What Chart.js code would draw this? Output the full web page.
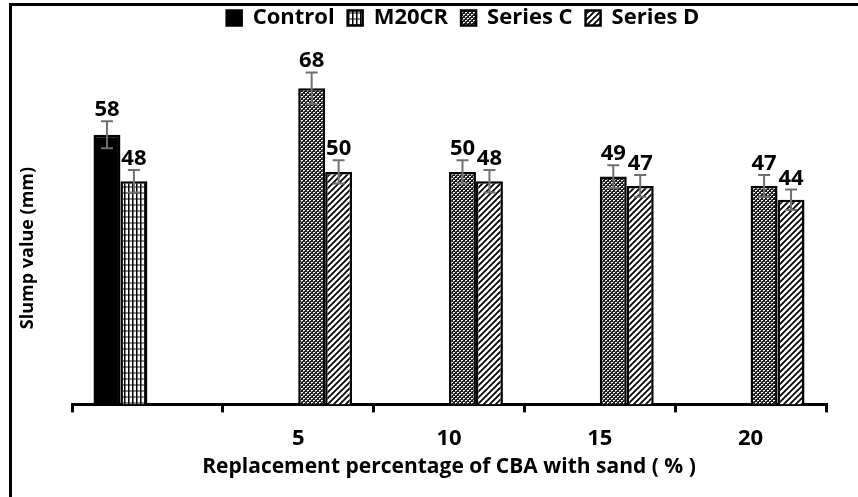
<!DOCTYPE html>
<html>
<head>
<meta charset="utf-8">
<script src="https://cdn.jsdelivr.net/npm/chart.js@4.4.0/dist/chart.umd.min.js"></script>
<style>
  html, body { margin: 0; padding: 0; background: #fff; overflow: hidden; }
  #wrap { position: relative; width: 858px; height: 497px; overflow: hidden; }
  #chart { position: absolute; left: 0; top: 0; }
  /* the source picture is cropped: only left and top of the frame show */
  #frame { position: absolute; left: 9px; top: 3px; width: 900px; height: 600px;
           border-left: 3px solid #000; border-top: 3px solid #000; pointer-events: none; }
</style>
</head>
<body>
<div id="wrap">
  <canvas id="chart" width="858" height="497"></canvas>
  <div id="frame"></div>
</div>
<script>
const categories = ['', '5', '10', '15', '20'];
const controlValues = [58, null, null, null, null];
const m20crValues = [48, null, null, null, null];
const seriesCValues = [null, 68, 50, 49, 47];
const seriesDValues = [null, 50, 48, 47, 44];
// error bar half heights
const controlErr = [2.9, null, null, null, null];
const m20crErr = [2.4, null, null, null, null];
const seriesCErr = [null, 3.4, 2.5, 2.45, 2.35];
const seriesDErr = [null, 2.5, 2.4, 2.35, 2.2];
const yTitle = 'Slump value (mm)';
const xTitle = 'Replacement percentage of CBA with sand ( % )';

const FONT = '"Open Sans", Lato, sans-serif';

function makePattern(kind) {
  const p = document.createElement('canvas');
  const c = p.getContext('2d');
  if (kind === 'grid') {
    p.width = 4; p.height = 6;
    c.fillStyle = '#fff'; c.fillRect(0, 0, 4, 6);
    c.fillStyle = '#8a8a8a'; c.fillRect(0, 0, 4, 2);
    c.fillStyle = '#000'; c.fillRect(0, 0, 1.5, 6);
  } else if (kind === 'weave') {
    p.width = 4; p.height = 4;
    c.fillStyle = '#1a1a1a'; c.fillRect(0, 0, 4, 4);
    c.fillStyle = '#fff';
    c.fillRect(1, 0, 2, 1);
    c.fillRect(3, 2, 1, 1);
    c.fillRect(0, 2, 1, 1);
    c.fillStyle = '#9a9a9a';
    c.fillRect(1, 1, 1, 1);
    c.fillRect(3, 3, 1, 1);
  } else {
    p.width = 6; p.height = 6;
    c.fillStyle = '#fff'; c.fillRect(0, 0, 6, 6);
    c.strokeStyle = '#000'; c.lineWidth = 1.8;
    c.beginPath();
    c.moveTo(-1, 7); c.lineTo(7, -1);
    c.moveTo(-4, 4); c.lineTo(4, -4);
    c.moveTo(2, 10); c.lineTo(10, 2);
    c.stroke();
  }
  return c.createPattern(p, 'repeat');
}

const ctx = document.getElementById('chart').getContext('2d');

const errorBars = {
  id: 'errorBars',
  afterDatasetsDraw(chart) {
    const c = chart.ctx;
    const y = chart.scales.y;
    chart.data.datasets.forEach((ds, i) => {
      const meta = chart.getDatasetMeta(i);
      meta.data.forEach((bar, j) => {
        const v = ds.data[j];
        const e = ds.errors[j];
        if (v == null) return;
        const x = bar.x;
        const yTop = y.getPixelForValue(v + e);
        const yBot = y.getPixelForValue(v - e);
        c.save();
        c.strokeStyle = '#707070';
        c.lineWidth = 2;
        c.beginPath();
        c.moveTo(x, yTop); c.lineTo(x, yBot);
        c.moveTo(x - 6, yTop); c.lineTo(x + 6, yTop);
        c.moveTo(x - 6, yBot); c.lineTo(x + 6, yBot);
        c.stroke();
        c.fillStyle = '#000';
        c.font = 'bold 22px ' + FONT;
        c.textAlign = 'center';
        c.textBaseline = 'alphabetic';
        c.fillText(String(v), x, yTop - 5);
        c.restore();
      });
    });
    // y axis title (the value axis itself is hidden, as in the source)
    c.save();
    c.translate(28, 248);
    c.rotate(-Math.PI / 2);
    c.fillStyle = '#000';
    c.font = 'bold 18px ' + FONT;
    c.textAlign = 'center';
    c.textBaseline = 'middle';
    c.fillText(yTitle, 0, 0);
    c.restore();
  }
};

const shiftLegend = {
  id: 'shiftLegend',
  afterLayout(chart) {
    chart.legend.left += 14;
    chart.legend.right += 14;
    chart.legend.top -= 6;
    chart.legend.bottom -= 6;
  }
};

new Chart(ctx, {
  type: 'bar',
  data: {
    labels: categories,
    datasets: [
      { label: 'Control', data: controlValues, errors: controlErr,
        backgroundColor: '#000', borderColor: '#000', borderWidth: 2.5 },
      { label: 'M20CR', data: m20crValues, errors: m20crErr,
        backgroundColor: makePattern('grid'), borderColor: '#000', borderWidth: 2.5 },
      { label: 'Series C', data: seriesCValues, errors: seriesCErr,
        backgroundColor: makePattern('weave'), borderColor: '#000', borderWidth: 2.5 },
      { label: 'Series D', data: seriesDValues, errors: seriesDErr,
        backgroundColor: makePattern('hatch'), borderColor: '#000', borderWidth: 2.5 }
    ]
  },
  options: {
    responsive: false,
    animation: false,
    layout: { padding: { left: 72, right: 32, top: 0, bottom: 17 } },
    datasets: { bar: { categoryPercentage: 0.715, barPercentage: 1 } },
    plugins: {
      tooltip: { enabled: false },
      legend: {
        position: 'top',
        labels: {
          boxWidth: 15, boxHeight: 15, padding: 13, color: '#000',
          font: { family: FONT, size: 22, weight: 'bold' }
        }
      }
    },
    scales: {
      x: {
        offset: true,
        grid: { display: true, drawOnChartArea: false, offset: true,
                tickLength: 8, color: '#000', lineWidth: 3 },
        border: { display: true, color: '#000', width: 3 },
        ticks: { color: '#000', padding: 13, font: { family: FONT, size: 22, weight: 'bold' } },
        title: { display: true, text: xTitle, color: '#000',
                 padding: { top: -10, bottom: 0 }, font: { family: FONT, size: 21, weight: 'bold' } }
      },
      y: {
        display: false,
        min: 0, max: 77.3
      }
    }
  },
  plugins: [errorBars, shiftLegend]
});
</script>
</body>
</html>
